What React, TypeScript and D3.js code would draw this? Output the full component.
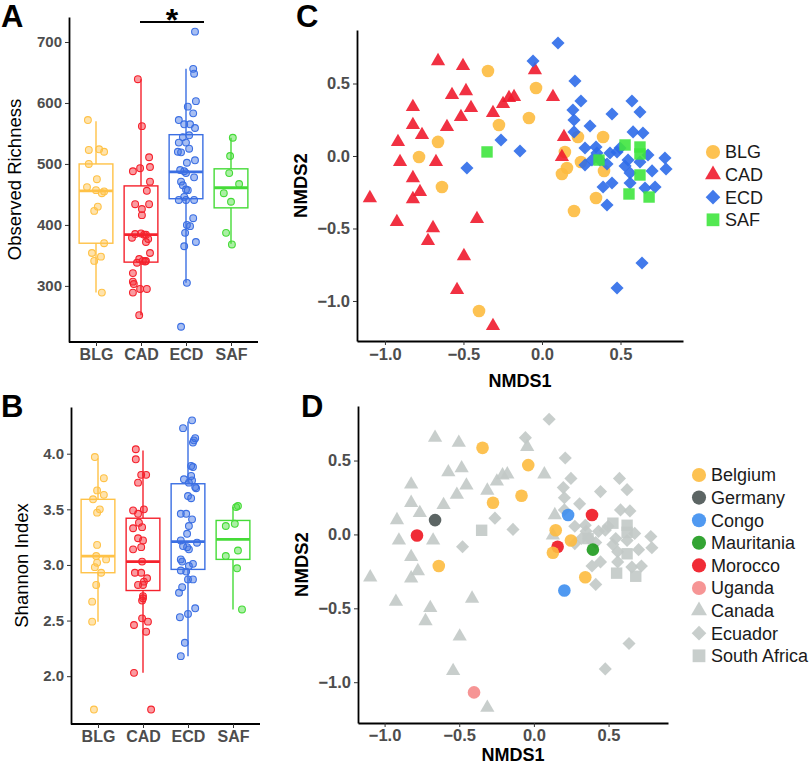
import React, { useRef, useEffect } from 'react';
import * as d3 from 'd3';

const FONT = '"Liberation Sans", Arial, Helvetica, sans-serif';

const groups = ['BLG', 'CAD', 'ECD', 'SAF'];
const boxColors = ['#FFC247', '#F5222D', '#3B6FE3', '#45DB37'];
const nmdsColors = ['#FDBB3F', '#EF1B2E', '#2D6BE9', '#3FE63E'];

// observed richness, [value, jitter as share of the category step]
const richBLG = [[572, -0.18], [523, -0.16], [524, 0.07], [520, 0.18], [500, -0.16], [475, 0.02], [462, -0.2], [457, 0], [455, 0.18], [452, 0.13], [430, 0.04], [423, -0.04], [370, 0.18], [354, -0.09], [348, 0.11], [341, -0.04], [289, 0.13]];
const richCAD = [[639, -0.07], [562, 0.02], [511, 0.18], [495, 0.2], [493, -0.02], [488, -0.18], [471, 0.2], [456, 0.13], [434, -0.13], [434, 0.18], [426, 0.02], [416, 0.02], [386, 0], [385, -0.13], [384, 0.07], [384, 0.11], [379, -0.2], [377, 0.16], [372, 0.11], [354, 0.2], [344, -0.04], [341, 0.04], [341, 0.11], [340, 0.09], [338, -0.09], [321, -0.18], [307, -0.18], [303, -0.16], [295, -0.02], [295, 0.13], [289, -0.18], [252, -0.04]];
const richECD = [[717, 0.2], [656, 0.16], [648, 0.18], [603, 0.22], [594, 0.04], [583, 0.16], [572, -0.16], [565, -0.04], [565, 0.09], [559, 0.2], [547, 0.07], [544, -0.07], [535, -0.16], [535, 0], [525, 0.07], [520, -0.18], [519, -0.11], [506, 0.2], [502, 0.02], [490, -0.13], [488, -0.04], [485, 0], [478, 0.18], [471, -0.11], [465, -0.07], [458, 0], [457, 0.04], [446, -0.04], [441, -0.16], [441, 0], [441, 0.18], [411, 0.16], [400, 0.02], [398, 0.09], [387, -0.02], [372, 0.22], [365, -0.04], [305, 0.02], [233, -0.11]];
const richSAF = [[543, 0.04], [513, -0.02], [485, -0.04], [467, 0.18], [452, -0.16], [438, 0], [387, -0.11], [368, 0.02]];
const richness = [richBLG, richCAD, richECD, richSAF];
// [lower whisker, q1, median, q3, upper whisker]
const richBoxes = [[289, 370, 456, 500, 570], [252, 339, 384, 464, 639], [305, 443, 487, 548, 656], [369, 428, 461, 492, 543]];
const richTicks = [300, 400, 500, 600, 700];

// shannon index
const shanBLG = [[3.97, -0.07], [3.78, 0.13], [3.67, -0.02], [3.63, 0.13], [3.59, -0.11], [3.5, 0.04], [3.47, -0.02], [3.18, -0.02], [3.08, -0.04], [3.05, 0.18], [3.02, -0.02], [2.98, -0.07], [2.93, 0.07], [2.82, -0.04], [2.67, -0.13], [2.49, -0.13], [1.7, -0.09]];
const shanCAD = [[4.04, -0.16], [3.95, -0.16], [3.81, -0.04], [3.81, 0.07], [3.74, -0.11], [3.5, 0.02], [3.49, -0.22], [3.46, -0.11], [3.38, -0.09], [3.34, -0.02], [3.33, -0.22], [3.24, -0.11], [3.22, 0], [3.16, -0.04], [3.14, -0.22], [3.03, -0.02], [2.93, -0.18], [2.93, -0.04], [2.88, 0.09], [2.85, 0.02], [2.82, -0.11], [2.82, 0], [2.72, 0], [2.7, 0], [2.68, -0.02], [2.52, -0.02], [2.49, 0.11], [2.46, -0.2], [2.4, 0.07], [2.03, -0.2], [1.7, 0.18]];
const shanECD = [[4.3, 0.09], [4.23, -0.11], [4.14, 0.16], [4.12, 0.13], [4.1, 0.11], [3.89, 0.07], [3.88, 0.11], [3.8, 0.07], [3.77, -0.09], [3.76, 0.09], [3.74, 0.02], [3.7, 0.16], [3.69, 0.18], [3.62, 0], [3.6, 0.07], [3.46, -0.16], [3.46, -0.04], [3.41, 0.09], [3.35, 0.02], [3.28, -0.02], [3.22, -0.16], [3.2, 0.2], [3.17, -0.11], [3.16, -0.02], [3.14, 0.02], [3.05, -0.16], [3.03, -0.13], [3.01, 0.11], [2.99, 0.02], [2.95, -0.16], [2.94, -0.04], [2.87, 0], [2.87, 0.11], [2.8, -0.13], [2.75, -0.2], [2.61, 0.16], [2.56, 0], [2.53, -0.18], [2.3, -0.07], [2.18, -0.16]];
const shanSAF = [[3.53, 0.11], [3.52, 0.07], [3.37, 0.04], [3.35, -0.16], [3.13, 0.11], [3.08, -0.16], [2.97, 0.09], [2.6, 0.2]];
const shannon = [shanBLG, shanCAD, shanECD, shanSAF];
const shanBoxes = [[2.49, 2.93, 3.08, 3.59, 3.96], [2.03, 2.77, 3.03, 3.42, 4.03], [2.18, 2.96, 3.21, 3.73, 4.29], [2.6, 3.05, 3.23, 3.4, 3.52]];
const shanTicks = [2.0, 2.5, 3.0, 3.5, 4.0];

// NMDS ordination
const nmdsBLG = [[-0.344, 0.586], [-0.038, 0.469], [-0.083, 0.262], [-0.274, 0.214], [-0.662, 0.097], [-0.783, -0.007], [-0.637, -0.214], [-0.401, -1.069], [0.229, 0.131], [0.389, 0.131], [0.146, 0.028], [0.248, -0.041], [0.159, -0.083], [0.127, -0.124], [0.395, -0.103], [0.344, -0.29], [0.204, -0.379]];
const blgCountry = ['Belgium', 'Belgium', 'Belgium', 'Belgium', 'Germany', 'Morocco', 'Belgium', 'Uganda', 'Congo', 'Morocco', 'Belgium', 'Belgium', 'Morocco', 'Belgium', 'Mauritania', 'Belgium', 'Congo'];
const nmdsCAD = [[-0.662, 0.655], [-0.503, 0.621], [-0.573, 0.421], [-0.484, 0.448], [-0.452, 0.331], [-0.822, 0.338], [-0.822, 0.214], [-0.764, 0.145], [-0.917, 0.097], [-0.605, 0.2], [-0.516, 0.269], [-0.312, 0.297], [-0.248, 0.359], [-0.21, 0.4], [-0.178, 0.407], [-0.045, 0.593], [-0.904, -0.041], [-0.675, -0.041], [-0.822, -0.152], [-0.777, -0.248], [-1.096, -0.29], [-0.822, -0.297], [-0.924, -0.455], [-0.694, -0.497], [-0.726, -0.586], [-0.414, -0.434], [-0.497, -0.69], [-0.541, -0.924], [-0.312, -1.172], [0.07, 0.407], [0.14, 0.131], [0.127, -0.007]];
const nmdsECD = [[0.102, 0.779], [-0.057, 0.655], [0.21, 0.517], [0.248, 0.379], [0.197, 0.317], [0.204, 0.248], [0.204, 0.166], [0.306, 0.207], [0.446, 0.29], [0.573, 0.379], [0.624, 0.303], [0.58, 0.166], [0.643, 0.159], [-0.261, 0.11], [-0.14, 0.034], [-0.478, -0.083], [0.344, 0.062], [0.35, 0.021], [0.274, -0.062], [0.318, -0.028], [0.433, 0.021], [0.478, 0.028], [0.497, 0.055], [0.529, -0.069], [0.561, -0.117], [0.624, -0.041], [0.675, 0.007], [0.701, -0.103], [0.783, -0.014], [0.79, -0.09], [0.561, -0.186], [0.389, -0.214], [0.446, -0.186], [0.656, -0.221], [0.72, -0.214], [0.414, -0.338], [0.414, -0.055], [0.637, -0.738], [0.478, -0.91], [0.548, -0.028], [0.369, -0.028], [0.274, 0.055]];
const nmdsSAF = [[-0.35, 0.028], [0.529, 0.076], [0.624, 0.062], [0.624, 0.014], [0.363, -0.028], [0.624, -0.131], [0.554, -0.262], [0.682, -0.283]];
const nmdsTicks = [-1.0, -0.5, 0.0, 0.5];

const countries = ['Belgium', 'Germany', 'Congo', 'Mauritania', 'Morocco', 'Uganda'];
const countryColors = ['#FDBB3F', '#4A5453', '#3D8EF0', '#1D9A1D', '#EE1520', '#F58A8A'];
const originNames = ['Canada', 'Ecuador', 'South Africa'];
const grey = '#C2C9C7';

const shapes = ['circle', 'triangle', 'diamond', 'square'];

const symbolPath = (shape: string, k = 1) => {
  if (shape === 'circle') return d3.symbol(d3.symbolCircle, 125 * k)();
  if (shape === 'triangle') return d3.symbol(d3.symbolTriangle, 88 * k)();
  if (shape === 'diamond') return d3.symbol(d3.symbolSquare, 86 * k)();
  return d3.symbol(d3.symbolSquare, 130 * k)();
};
const symbolTransform = (shape: string, x: number, y: number) =>
  shape === 'diamond' ? `translate(${x},${y}) rotate(45)` : `translate(${x},${y})`;

const styleAxis = (ax: any, size: number) => {
  ax.attr('font-family', FONT).attr('font-size', size).attr('font-weight', 'bold');
  ax.select('.domain').attr('stroke', '#000').attr('stroke-width', 1.8);
  ax.selectAll('.tick line').attr('stroke', '#333').attr('stroke-width', 1);
  ax.selectAll('.tick text').attr('fill', '#4D4D4D');
};

const drawBoxPanel = (svg: any, cfg: any) => {
  const { data, boxes, domain, ticks, format, left, right, top, bottom, title, titleX } = cfg;
  const x = d3.scalePoint<string>().domain(groups).range([left, right]).padding(0.6);
  const y = d3.scaleLinear().domain(domain).range([bottom, top]);
  const step = x.step();
  const bw = step * 0.75;
  const g = svg.append('g');

  groups.forEach((grp, i) => {
    const [lo, q1, med, q3, hi] = boxes[i];
    const cx = x(grp) as number;
    const col = boxColors[i];
    g.append('line').attr('x1', cx).attr('x2', cx).attr('y1', y(q3)).attr('y2', y(hi))
      .attr('stroke', col).attr('stroke-width', 1.4);
    g.append('line').attr('x1', cx).attr('x2', cx).attr('y1', y(q1)).attr('y2', y(lo))
      .attr('stroke', col).attr('stroke-width', 1.4);
    g.append('rect').attr('x', cx - bw / 2).attr('width', bw)
      .attr('y', y(q3)).attr('height', y(q1) - y(q3))
      .attr('fill', 'none').attr('stroke', col).attr('stroke-width', 1.4);
    g.append('line').attr('x1', cx - bw / 2).attr('x2', cx + bw / 2)
      .attr('y1', y(med)).attr('y2', y(med)).attr('stroke', col).attr('stroke-width', 2.8);

    g.selectAll(null).data(data[i]).join('circle')
      .attr('cx', (d: number[]) => cx + d[1] * step)
      .attr('cy', (d: number[]) => y(d[0]))
      .attr('r', 3.4)
      .attr('fill', col).attr('fill-opacity', 0.45)
      .attr('stroke', col).attr('stroke-width', 1.1);
  });

  const yAx = g.append('g').attr('transform', `translate(${left},0)`)
    .call(d3.axisLeft(y).tickValues(ticks).tickFormat(format).tickSize(4).tickSizeOuter(0).tickPadding(3));
  styleAxis(yAx, 15);
  const xAx = g.append('g').attr('transform', `translate(0,${bottom})`)
    .call(d3.axisBottom(x).tickSize(4).tickSizeOuter(0).tickPadding(3));
  xAx.select('.domain').attr('d', `M${left},0H${right}`);
  styleAxis(xAx, 16);

  g.append('text')
    .attr('transform', `translate(${titleX},${(top + bottom) / 2}) rotate(-90)`)
    .attr('text-anchor', 'middle').attr('dy', '0.35em')
    .attr('font-family', FONT).attr('font-size', 18.5).attr('fill', '#000')
    .text(title);
  return { x, y, step };
};

const drawNmds = (svg: any, cfg: any) => {
  const { left, right, top, bottom, layers, titleX, xTitleY, tickPad, legend, legendX, legendY } = cfg;
  const x = d3.scaleLinear().domain([-1.178, 0.898]).range([left, right]);
  const y = d3.scaleLinear().domain([-1.276, 0.869]).range([bottom, top]);
  const g = svg.append('g');

  layers.forEach((layer: any) => {
    g.selectAll(null).data(layer.points).join('path')
      .attr('d', symbolPath(layer.shape))
      .attr('transform', (d: number[]) => symbolTransform(layer.shape, x(d[0]), y(d[1])))
      .attr('fill', (d: number[], i: number) => layer.color(i))
      .attr('fill-opacity', 0.9);
  });

  const fmt = d3.format('.1f');
  const yAx = g.append('g').attr('transform', `translate(${left},0)`)
    .call(d3.axisLeft(y).tickValues(nmdsTicks).tickFormat(fmt).tickSize(4).tickSizeOuter(0).tickPadding(3));
  styleAxis(yAx, 16.5);
  const xAx = g.append('g').attr('transform', `translate(0,${bottom})`)
    .call(d3.axisBottom(x).tickValues(nmdsTicks).tickFormat(fmt).tickSize(4).tickSizeOuter(0).tickPadding(tickPad));
  styleAxis(xAx, 16.5);

  g.append('text')
    .attr('x', (left + right) / 2).attr('y', xTitleY)
    .attr('text-anchor', 'middle')
    .attr('font-family', FONT).attr('font-size', 18).attr('font-weight', 'bold')
    .text('NMDS1');
  g.append('text')
    .attr('transform', `translate(${titleX},${(top + bottom) / 2}) rotate(-90)`)
    .attr('text-anchor', 'middle').attr('dy', '0.35em')
    .attr('font-family', FONT).attr('font-size', 18.5).attr('font-weight', 'bold')
    .text('NMDS2');

  const lg = g.append('g');
  legend.forEach((item: any, i: number) => {
    const ly = legendY + i * 22.6;
    lg.append('path').attr('d', symbolPath(item.shape, 1.25))
      .attr('transform', symbolTransform(item.shape, legendX, ly))
      .attr('fill', item.color).attr('fill-opacity', 0.9);
    lg.append('text').attr('x', legendX + 12).attr('y', ly).attr('dy', '0.36em')
      .attr('font-family', FONT).attr('font-size', 18).attr('fill', '#1A1A1A')
      .text(item.label);
  });
};

const App = () => {
  const svgRef = useRef<SVGSVGElement>(null);

  useEffect(() => {
    const svg = d3.select(svgRef.current);
    svg.selectAll('*').remove();

    // A: observed richness
    const a = drawBoxPanel(svg, {
      data: richness, boxes: richBoxes, domain: [208, 741], ticks: richTicks,
      format: d3.format('d'), left: 69, right: 258, top: 17, bottom: 342,
      title: 'Observed Richness', titleX: 15
    });
    const x1 = (a.x('CAD') as number) - 1;
    const x2 = (a.x('ECD') as number) + 0.4 * a.step;
    svg.append('line').attr('x1', x1).attr('x2', x2).attr('y1', 22).attr('y2', 22)
      .attr('stroke', '#000').attr('stroke-width', 1.8);
    svg.append('text').attr('x', (x1 + x2) / 2).attr('y', 31).attr('text-anchor', 'middle')
      .attr('font-family', FONT).attr('font-size', 32).attr('font-weight', 'bold').text('*');

    // B: shannon
    drawBoxPanel(svg, {
      data: shannon, boxes: shanBoxes, domain: [1.57, 4.42], ticks: shanTicks,
      format: d3.format('.1f'), left: 71, right: 260, top: 407, bottom: 724,
      title: 'Shannon Index', titleX: 22
    });

    // C: NMDS by group
    const groupPoints = [nmdsBLG, nmdsCAD, nmdsECD, nmdsSAF];
    drawNmds(svg, {
      left: 357, right: 683, top: 30, bottom: 341, titleX: 301, xTitleY: 387, tickPad: 3,
      layers: groupPoints.map((pts, i) => ({ points: pts, shape: shapes[i], color: () => nmdsColors[i] })),
      legend: groups.map((gname, i) => ({ label: gname, shape: shapes[i], color: nmdsColors[i] })),
      legendX: 713, legendY: 152
    });

    // D: NMDS by country
    const countryColor = (i: number) => countryColors[countries.indexOf(blgCountry[i])];
    drawNmds(svg, {
      left: 358, right: 668, top: 406, bottom: 723, titleX: 302, xTitleY: 760.5, tickPad: 2,
      layers: [
        { points: nmdsCAD, shape: 'triangle', color: () => grey },
        { points: nmdsECD, shape: 'diamond', color: () => grey },
        { points: nmdsSAF, shape: 'square', color: () => grey },
        { points: nmdsBLG, shape: 'circle', color: countryColor }
      ],
      legend: [
        ...countries.map((c, i) => ({ label: c, shape: 'circle', color: countryColors[i] })),
        ...originNames.map((c, i) => ({ label: c, shape: shapes[i + 1], color: grey }))
      ],
      legendX: 699, legendY: 475
    });

    // panel letters
    const letters = [['A', 1, 27], ['B', 1, 417], ['C', 296, 27], ['D', 301, 417]];
    svg.selectAll('.panel-letter').data(letters).join('text')
      .attr('class', 'panel-letter')
      .attr('x', (d: any) => d[1]).attr('y', (d: any) => d[2])
      .attr('font-family', FONT).attr('font-size', 31).attr('font-weight', 'bold')
      .text((d: any) => d[0]);
  }, []);

  return (
    <svg
      ref={svgRef}
      width={810}
      height={765}
      style={{ position: 'absolute', left: 0, top: 0, background: '#fff' }}
    />
  );
};

export default App;
